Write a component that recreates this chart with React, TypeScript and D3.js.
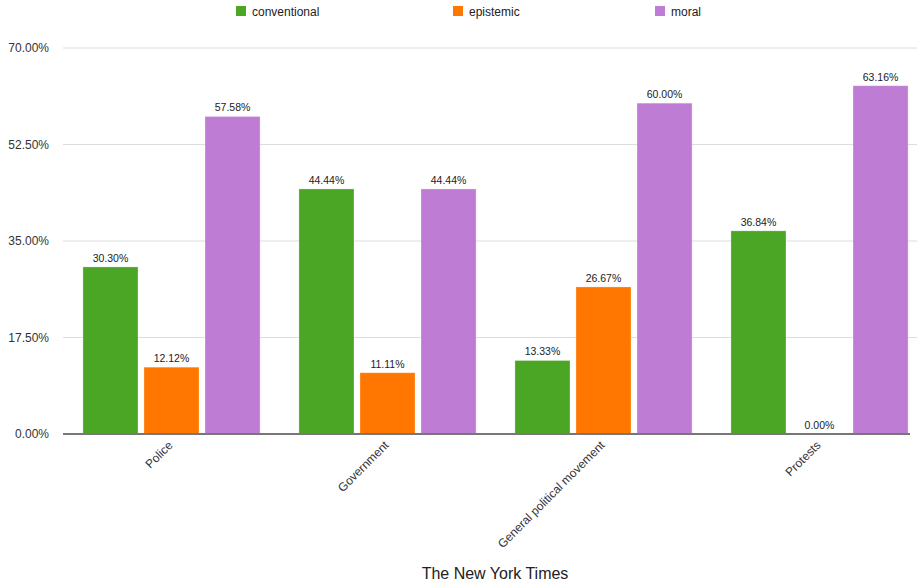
import React from "react";
import * as d3 from "d3";

const categories = ["Police", "Government", "General political movement", "Protests"];
const seriesNames = ["conventional", "epistemic", "moral"];
const conventional = [30.3, 44.44, 13.33, 36.84];
const epistemic = [12.12, 11.11, 26.67, 0.0];
const moral = [57.58, 44.44, 60.0, 63.16];
const yTicks = [0, 17.5, 35, 52.5, 70];
const colors = ["#4ca626", "#ff7700", "#bf7cd4"];
const chartTitle = "The New York Times";

const W = 917;
const H = 585;
const FONT = "'Liberation Sans', Arial, Helvetica, sans-serif";

export default function App() {
  const series = [conventional, epistemic, moral];
  const y = d3.scaleLinear().domain([0, 70]).range([434, 48]);
  const x0 = d3
    .scaleBand<string>()
    .domain(categories)
    .range([63.5, 927.5])
    .paddingInner(0.18)
    .paddingOuter(0.09);
  const x1 = d3
    .scaleBand<string>()
    .domain(seriesNames)
    .range([0, x0.bandwidth()])
    .paddingInner(0.098)
    .paddingOuter(0);

  const legendX = [236, 453, 655];

  return (
    <div style={{ position: "fixed", left: 0, top: 0, width: W, height: H, background: "#fff" }}>
      <svg width={W} height={H} style={{ display: "block", fontFamily: FONT }}>
        {/* legend */}
        {seriesNames.map((s, i) => (
          <g key={s} transform={`translate(${legendX[i]},0)`}>
            <rect x={0} y={6} width={10} height={10} fill={colors[i]} />
            <text x={16} y={15.5} fontSize={12} fill="#222">
              {s}
            </text>
          </g>
        ))}

        {/* gridlines and y labels */}
        {yTicks.map((t) => (
          <g key={t}>
            {t !== 0 && (
              <line x1={63} x2={W} y1={y(t)} y2={y(t)} stroke="#dcdcdc" strokeWidth={1} />
            )}
            <text x={49} y={y(t) + 4} fontSize={12} fill="#333" textAnchor="end">
              {d3.format(".2f")(t) + "%"}
            </text>
          </g>
        ))}

        {/* bars */}
        {categories.map((c, ci) => (
          <g key={c} transform={`translate(${x0(c)},0)`}>
            {seriesNames.map((s, si) => {
              const v = series[si][ci];
              const bx = x1(s)!;
              const bw = x1.bandwidth();
              return (
                <g key={s}>
                  {v > 0 && (
                    <rect
                      x={bx}
                      y={y(v)}
                      width={bw}
                      height={y(0) - y(v)}
                      fill={colors[si]}
                      stroke="rgba(255,255,255,0.35)"
                      strokeWidth={0.8}
                    />
                  )}
                  <text
                    x={bx + bw / 2}
                    y={y(v) - 5}
                    fontSize={10.5}
                    fill="#222"
                    textAnchor="middle"
                  >
                    {d3.format(".2f")(v) + "%"}
                  </text>
                </g>
              );
            })}
          </g>
        ))}

        {/* baseline */}
        <line x1={63} x2={910} y1={y(0)} y2={y(0)} stroke="#777" strokeWidth={2} />

        {/* category labels */}
        {categories.map((c) => {
          const cx = x0(c)! + x0.bandwidth() / 2 - 1;
          return (
            <text
              key={c}
              transform={`translate(${cx},443) rotate(-45)`}
              fontSize={12}
              fill="#333"
              textAnchor="end"
              dy="0.35em"
            >
              {c}
            </text>
          );
        })}

        {/* title */}
        <text x={495} y={579} fontSize={16} fill="#222" textAnchor="middle">
          {chartTitle}
        </text>
      </svg>
    </div>
  );
}
